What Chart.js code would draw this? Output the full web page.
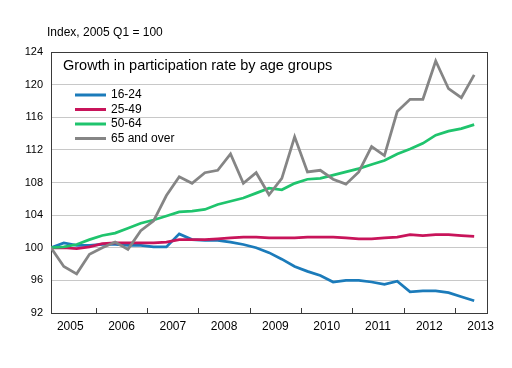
<!DOCTYPE html>
<html>
<head>
<meta charset="utf-8">
<script src="https://cdn.jsdelivr.net/npm/chart.js@4.4.1/dist/chart.umd.min.js"></script>
<style>
  html, body { margin: 0; padding: 0; background: #fff; }
  #wrap { width: 512px; height: 368px; }
</style>
</head>
<body>
<div id="wrap"><canvas id="chart" width="512" height="368"></canvas></div>
<script>
// Participation rate growth by age group, quarterly 2005 Q1 .. 2013 Q2 (index, 2005 Q1 = 100)
const years = ['2005', '2006', '2007', '2008', '2009', '2010', '2011', '2012', '2013'];
const seriesNames = ['16-24', '25-49', '50-64', '65 and over'];

const age1624 = [100, 100.6, 100.3, 100.3, 100.4, 100.4, 100.3, 100.3, 100.1, 100.1, 101.7,
  101.0, 100.9, 100.9, 100.7, 100.4, 100.0, 99.4, 98.6, 97.7, 97.1, 96.6, 95.8,
  96.0, 96.0, 95.8, 95.5, 95.9, 94.6, 94.7, 94.7, 94.5, 94.0, 93.5];
const age2549 = [100, 100.0, 99.9, 100.1, 100.5, 100.6, 100.6, 100.6, 100.6, 100.7, 101.0,
  101.0, 101.0, 101.1, 101.2, 101.3, 101.3, 101.2, 101.2, 101.2, 101.3, 101.3, 101.3,
  101.2, 101.1, 101.1, 101.2, 101.3, 101.6, 101.5, 101.6, 101.6, 101.5, 101.4];
const age5064 = [100, 100.1, 100.4, 101.0, 101.5, 101.8, 102.4, 103.0, 103.4, 103.9, 104.4,
  104.5, 104.7, 105.3, 105.7, 106.1, 106.7, 107.3, 107.1, 107.9, 108.4, 108.5, 108.9,
  109.3, 109.7, 110.2, 110.7, 111.5, 112.1, 112.8, 113.8, 114.3, 114.6, 115.1];
const age65plus = [100, 97.7, 96.8, 99.2, 100.0, 100.7, 99.8, 102.1, 103.3, 106.4, 108.7,
  107.9, 109.2, 109.5, 111.5, 107.9, 109.2, 106.5, 108.5, 113.6, 109.3, 109.5, 108.4,
  107.8, 109.3, 112.4, 111.3, 116.7, 118.2, 118.2, 122.9, 119.5, 118.4, 121.2];

const yTicks = [92, 96, 100, 104, 108, 112, 116, 120, 124];

const colors = ['#1b7bba', '#c8145a', '#1fc46d', '#858585'];
const FONT = '"Liberation Sans", Arial, sans-serif';
const FRAME = '#3a3a3a';

// quarter index -> {x, y}
const toPts = arr => arr.map((v, i) => ({ x: i, y: v }));

// year labels sit mid-year, tick marks sit on the year boundaries
const yearCentre = i => 1.5 + 4 * i;
const yearBoundary = i => 3.5 + 4 * i;

const overlay = {
  id: 'overlay',
  beforeDatasetsDraw(chart) {
    const { ctx, chartArea: a, scales } = chart;
    ctx.save();
    ctx.strokeStyle = FRAME;
    ctx.lineWidth = 1;
    ctx.strokeRect(Math.round(a.left) + 0.5, Math.round(a.top) + 0.5,
      Math.round(a.right - a.left), Math.round(a.bottom - a.top));
    // inward year tick marks
    ctx.beginPath();
    for (let i = 0; i < years.length - 1; i++) {
      const x = Math.round(scales.x.getPixelForValue(yearBoundary(i))) + 0.5;
      ctx.moveTo(x, a.bottom);
      ctx.lineTo(x, a.bottom - 5);
    }
    ctx.stroke();
    ctx.restore();
  },
  afterDraw(chart) {
    const { ctx, chartArea: a } = chart;
    ctx.save();
    ctx.fillStyle = '#000';
    ctx.textBaseline = 'middle';
    ctx.textAlign = 'left';
    ctx.font = '12px ' + FONT;
    ctx.fillText('Index, 2005 Q1 = 100', 47, 33);
    ctx.font = '14.5px ' + FONT;
    ctx.fillText('Growth in participation rate by age groups', a.left + 12, a.top + 14);
    // legend
    ctx.font = '12px ' + FONT;
    chart.data.datasets.forEach((ds, i) => {
      const y = a.top + 43 + i * 14.5;
      ctx.strokeStyle = ds.borderColor;
      ctx.lineWidth = 3;
      ctx.beginPath();
      ctx.moveTo(a.left + 24, y);
      ctx.lineTo(a.left + 55, y);
      ctx.stroke();
      ctx.fillText(ds.label, a.left + 60, y);
    });
    ctx.restore();
  }
};

const series = [age1624, age2549, age5064, age65plus];
const drawOrder = [3, 2, 1, 0];

new Chart(document.getElementById('chart'), {
  type: 'line',
  data: {
    datasets: series.map((s, i) => ({
      label: seriesNames[i],
      data: toPts(s),
      borderColor: colors[i],
      backgroundColor: colors[i],
      borderWidth: 2.75,
      pointRadius: 0,
      tension: 0,
      order: drawOrder[i]
    }))
  },
  options: {
    responsive: false,
    devicePixelRatio: 1,
    animation: false,
    layout: { padding: { top: 52, right: 25, left: 0, bottom: 0 } },
    plugins: { legend: { display: false }, tooltip: { enabled: false } },
    scales: {
      x: {
        type: 'linear',
        min: 0,
        max: 34,
        afterBuildTicks: s => { s.ticks = years.map((y, i) => ({ value: yearCentre(i) })); },
        afterFit: s => { s.height = 55; },
        grid: { display: false, drawTicks: false },
        border: { display: false },
        ticks: {
          autoSkip: false,
          maxRotation: 0,
          padding: 6,
          color: '#000',
          font: { family: FONT, size: 12 },
          callback: (v, i) => years[i]
        }
      },
      y: {
        min: 92,
        max: 124,
        afterBuildTicks: s => { s.ticks = yTicks.map(v => ({ value: v })); },
        afterFit: s => { s.width = 51; },
        grid: { color: '#c8c8c8', lineWidth: 1, drawTicks: false },
        border: { display: false },
        ticks: {
          padding: 8,
          color: '#000',
          font: { family: FONT, size: 11 }
        }
      }
    }
  },
  plugins: [overlay]
});
</script>
</body>
</html>
